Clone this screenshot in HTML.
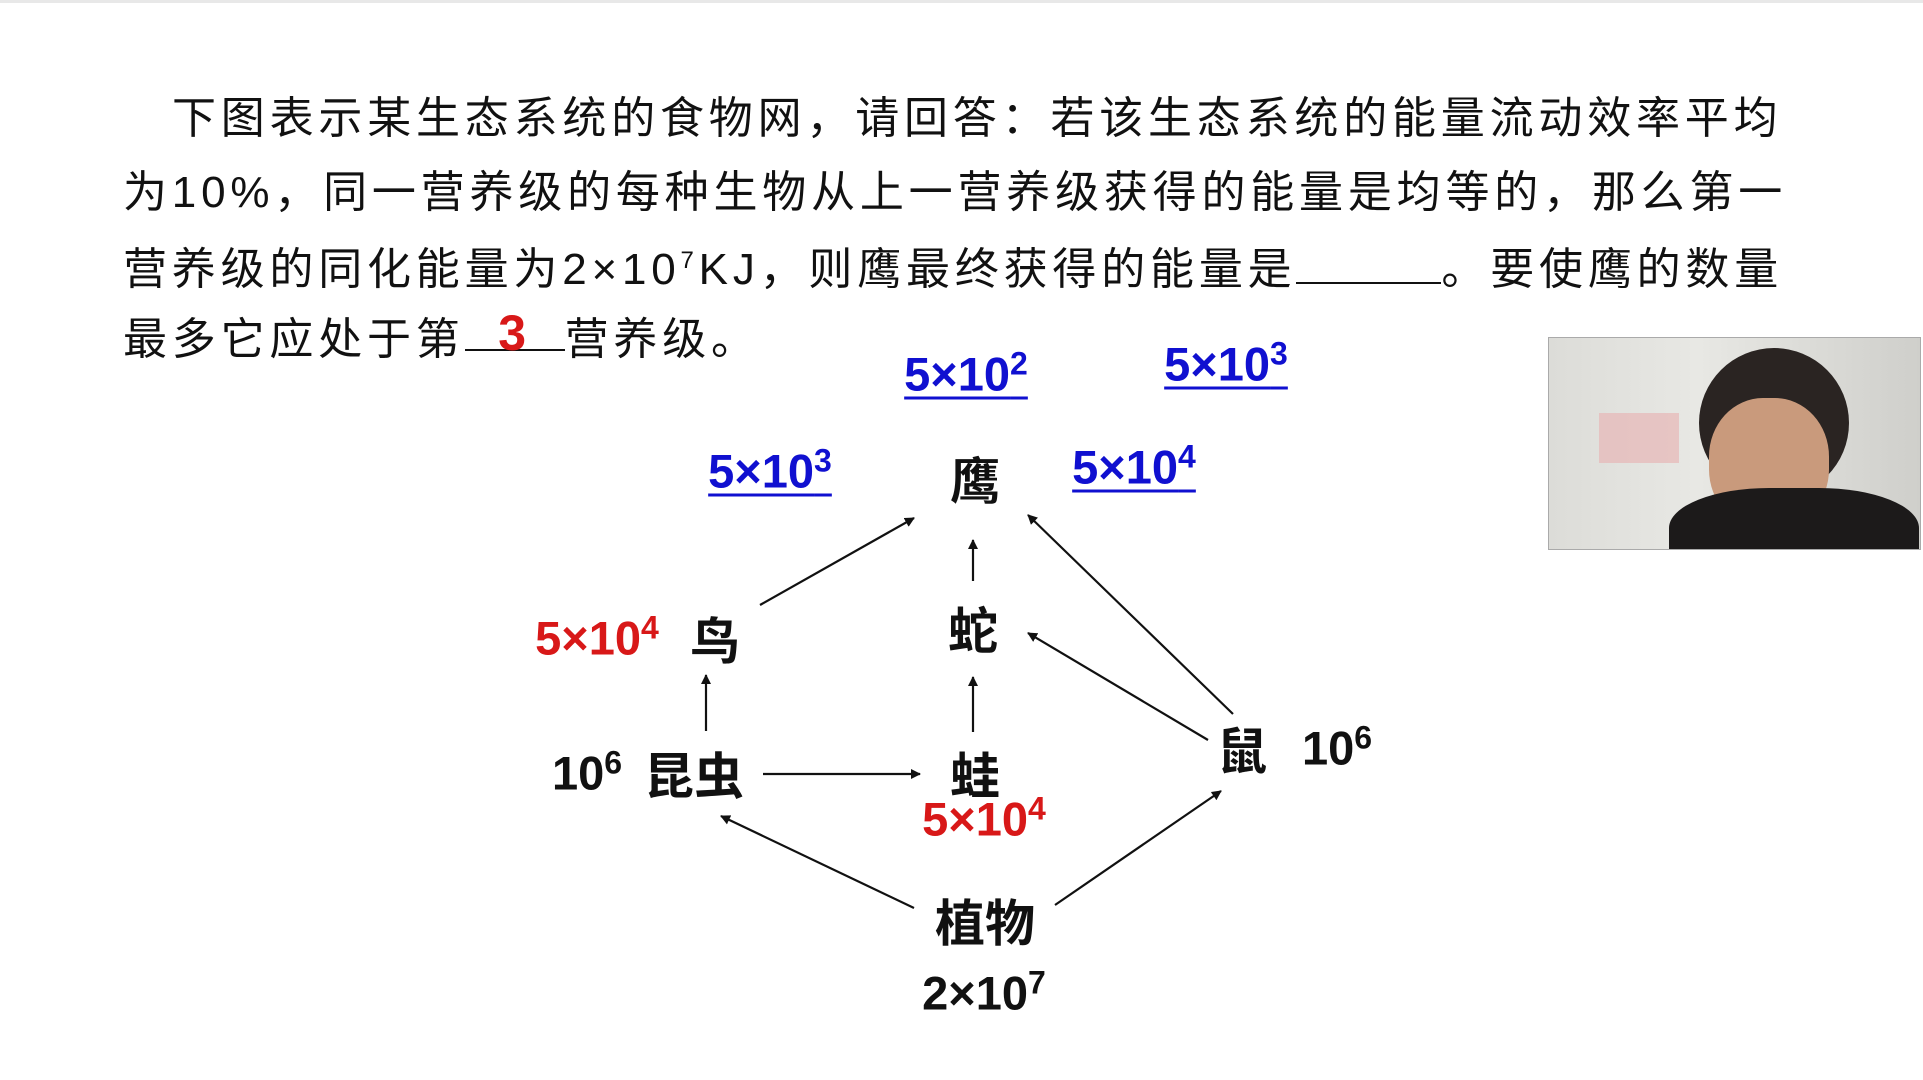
<!DOCTYPE html>
<html><head><meta charset="utf-8"><style>
body{margin:0;width:1923px;height:1080px;background:#fff;overflow:hidden;position:relative;font-family:"Liberation Sans","Noto Sans CJK SC",sans-serif}
.t{position:absolute;left:123px;font-size:44px;color:#111;white-space:nowrap;line-height:44px;letter-spacing:4.8px}
.n{position:absolute;font-size:50px;font-weight:bold;color:#111;transform:translate(-50%,-50%);white-space:nowrap;font-family:"Noto Sans CJK SC",sans-serif}
.l{position:absolute;font-size:47px;font-weight:bold;transform:translate(-50%,-50%);white-space:nowrap}
.b{color:#1010d0;text-decoration:underline;text-decoration-thickness:3px;text-underline-offset:6px}
.r{color:#d81818}
.k{color:#111}
sup{font-size:32px;vertical-align:16px;line-height:0}
</style></head><body>
<div style="position:absolute;left:0;top:0;width:1923px;height:3px;background:#e8e8e8"></div>
<div class="t" style="top:97px;left:172px">下图表示某生态系统的食物网，请回答：若该生态系统的能量流动效率平均</div>
<div class="t" style="top:171px">为10%，同一营养级的每种生物从上一营养级获得的能量是均等的，那么第一</div>
<div class="t" style="top:244px">营养级的同化能量为2×10<sup style="font-size:24px;vertical-align:16px">7</sup>KJ，则鹰最终获得的能量是<span style="display:inline-block;width:145px;border-bottom:2px solid #111;height:38px"></span>。要使鹰的数量</div>
<div class="t" style="top:315px">最多它应处于第<span style="display:inline-block;width:100px;border-bottom:2px solid #111;height:38px;text-align:center;color:#d81818;font-weight:bold;font-size:50px;position:relative;top:-4px">3</span>营养级。</div>

<div style="position:absolute;left:1548px;top:337px;width:371px;height:211px;background:linear-gradient(90deg,#dcdcd8 0%,#e8e8e4 40%,#cfcfcb 100%);overflow:hidden;border:1px solid #aaa">
<div style="position:absolute;left:50px;top:75px;width:80px;height:50px;background:#e7b6b6;opacity:.7"></div>
<div style="position:absolute;left:150px;top:10px;width:150px;height:150px;border-radius:50%;background:#2a2422"></div>
<div style="position:absolute;left:160px;top:60px;width:120px;height:130px;border-radius:45%;background:#c99a7c"></div>
<div style="position:absolute;left:120px;top:150px;width:250px;height:100px;border-radius:40% 40% 0 0;background:#1c1a1a"></div>
</div>

<svg width="1923" height="1080" style="position:absolute;left:0;top:0">
<defs><marker id="a" markerWidth="10" markerHeight="10" refX="9" refY="5" orient="auto" markerUnits="userSpaceOnUse"><path d="M0,0L10,5L0,10z" fill="#111"/></marker></defs>
<g stroke="#111" stroke-width="2.2" marker-end="url(#a)">
<line x1="760" y1="605" x2="914" y2="518"/>
<line x1="973" y1="581" x2="973" y2="540"/>
<line x1="1233" y1="714" x2="1028" y2="515"/>
<line x1="1208" y1="740" x2="1028" y2="633"/>
<line x1="706" y1="731" x2="706" y2="675"/>
<line x1="763" y1="774" x2="920" y2="774"/>
<line x1="973" y1="732" x2="973" y2="677"/>
<line x1="914" y1="908" x2="721" y2="816"/>
<line x1="1055" y1="905" x2="1221" y2="791"/>
</g></svg>

<div class="n" style="left:975px;top:478px">鹰</div>
<div class="n" style="left:973px;top:628px">蛇</div>
<div class="n" style="left:715px;top:638px">鸟</div>
<div class="n" style="left:694px;top:773px">昆虫</div>
<div class="n" style="left:975px;top:773px">蛙</div>
<div class="n" style="left:1242px;top:748px">鼠</div>
<div class="n" style="left:985px;top:920px">植物</div>

<div class="l b" style="left:966px;top:374px">5×10<sup>2</sup></div>
<div class="l b" style="left:1226px;top:364px">5×10<sup>3</sup></div>
<div class="l b" style="left:770px;top:471px">5×10<sup>3</sup></div>
<div class="l b" style="left:1134px;top:467px">5×10<sup>4</sup></div>
<div class="l r" style="left:597px;top:638px">5×10<sup>4</sup></div>
<div class="l k" style="left:587px;top:773px">10<sup>6</sup></div>
<div class="l r" style="left:984px;top:819px">5×10<sup>4</sup></div>
<div class="l k" style="left:1337px;top:748px">10<sup>6</sup></div>
<div class="l k" style="left:984px;top:993px">2×10<sup>7</sup></div>
</body></html>
